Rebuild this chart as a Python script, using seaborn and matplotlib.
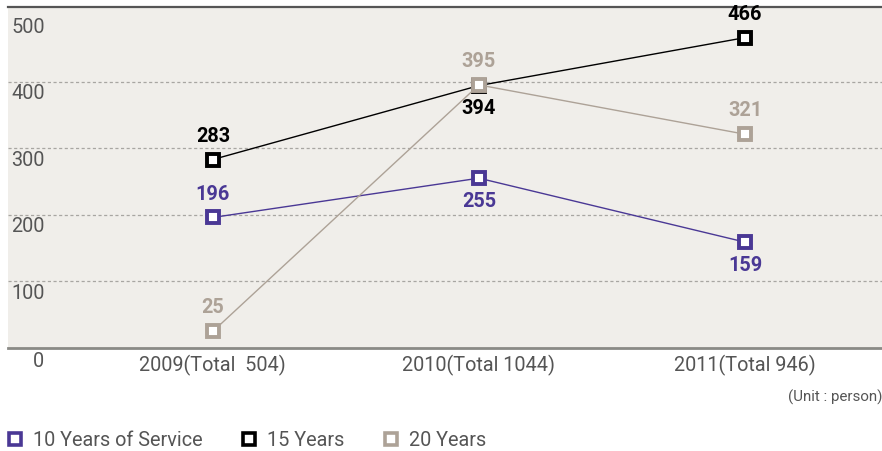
import matplotlib
matplotlib.use("Agg")
import matplotlib.pyplot as plt
from matplotlib.lines import Line2D
import seaborn as sns
import pandas as pd

# Employees reaching long-service milestones per year
categories = ["2009(Total  504)", "2010(Total 1044)", "2011(Total 946)"]
series_names = ["10 Years of Service", "15 Years", "20 Years"]
years_10 = [196, 255, 159]
years_15 = [283, 394, 466]
years_20 = [25, 395, 321]
y_ticks = [0, 100, 200, 300, 400, 500]

colors = {"10 Years of Service": "#4a3895", "15 Years": "#000000", "20 Years": "#ada297"}
# label placement: +1 above the marker, -1 below
label_side = {
    "10 Years of Service": [1, -1, -1],
    "15 Years": [1, -1, 1],
    "20 Years": [1, 1, 1],
}

rows = []
for name, vals in zip(series_names, [years_10, years_15, years_20]):
    for i, v in enumerate(vals):
        rows.append({"x": i, "category": categories[i], "series": name, "value": v})
df = pd.DataFrame(rows)

sns.set_theme(style="white")
plt.rcParams["font.family"] = ["Roboto", "DejaVu Sans"]

FS = 14.3
fig = plt.figure(figsize=(8.82, 4.51), dpi=100)
ax = fig.add_axes([8 / 882, 1 - 348 / 451, 874 / 882, 341 / 451])
ax.set_facecolor("#f0eeea")

sns.lineplot(
    data=df, x="x", y="value", hue="series", palette=colors,
    hue_order=series_names, marker="s", markersize=8.5,
    markerfacecolor="white", markeredgewidth=2.8, linewidth=1.0,
    legend=False, ax=ax, zorder=3,
)
# marker edges take the series colour
for line, name in zip(ax.lines, series_names):
    line.set_markeredgecolor(colors[name])

ax.set_xlim(-0.77, 2.515)
ax.set_ylim(0, 512)

# dotted gridlines
for t in y_ticks[1:-1]:
    ax.axhline(t, color="#a8a6a2", lw=0.9, ls=(0, (2.5, 2)), zorder=1)

for s in ["left", "right"]:
    ax.spines[s].set_visible(False)
ax.spines["top"].set_color("#555555")
ax.spines["top"].set_linewidth(1.6)
ax.spines["bottom"].set_color("#8a8a86")
ax.spines["bottom"].set_linewidth(2)

ax.set_xticks(range(len(categories)))
ax.set_xticklabels(categories, fontsize=FS, color="#555555")
ax.tick_params(axis="x", length=0, pad=5)
ax.set_yticks([])
ax.set_xlabel("")
ax.set_ylabel("")

# y tick labels sit just under each gridline, inside the plot
ytrans = ax.get_yaxis_transform()
for t in y_ticks:
    ax.text(0.004 if t else 0.028, t - 4 if t else -6, str(t), transform=ytrans,
            ha="left", va="top", fontsize=FS, color="#555555", clip_on=False)

# value labels
for name, vals in zip(series_names, [years_10, years_15, years_20]):
    for i, v in enumerate(vals):
        side = label_side[name][i]
        ax.annotate(str(v), (i, v), xytext=(0, 10 * side), textcoords="offset points",
                    ha="center", va="bottom" if side > 0 else "top",
                    fontsize=FS, fontweight="bold", color=colors[name], zorder=5,
                    annotation_clip=False)

fig.text(1.0, 1 - 397 / 451, "(Unit : person)", ha="right", va="center",
         fontsize=10.9, color="#555555")

handles = [Line2D([], [], ls="none", marker="s", markersize=8, markerfacecolor="white",
                  markeredgewidth=2.6, markeredgecolor=colors[n]) for n in series_names]
leg = fig.legend(handles, series_names, loc="center left",
                 bbox_to_anchor=(3 / 882, 1 - 440 / 451),
                 ncol=3, frameon=False, fontsize=FS, handlelength=0.8, handletextpad=0.5,
                 columnspacing=1.95, borderaxespad=0, borderpad=0.2)
for t in leg.get_texts():
    t.set_color("#555555")

fig.savefig("out.png", dpi=100, facecolor="white")
